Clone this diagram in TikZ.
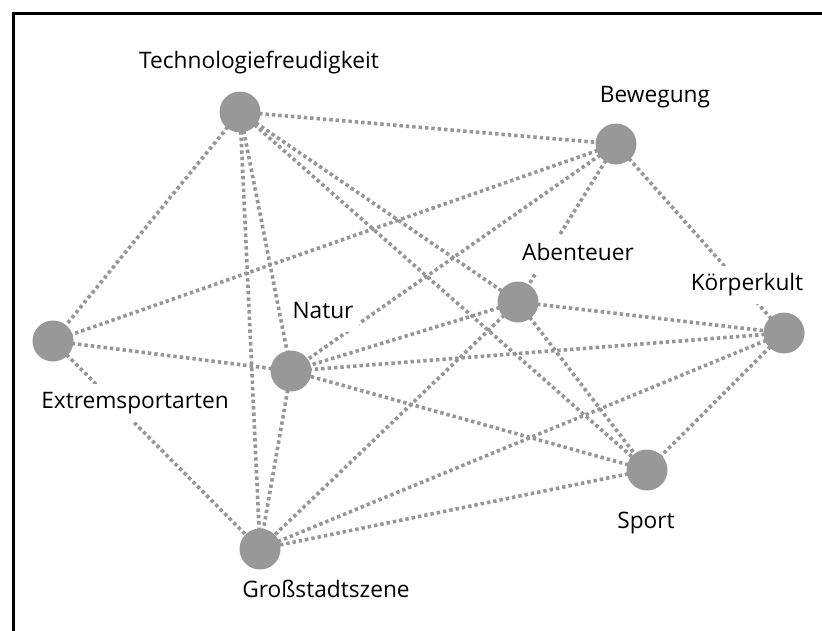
\documentclass[tikz,border=0pt]{standalone}
\usepackage{fontspec}
\setmainfont{Open Sans}
\definecolor{nodegray}{RGB}{152,152,152}
\definecolor{linegray}{RGB}{150,150,150}
\begin{document}
\begin{tikzpicture}[x=1pt,y=-1pt,
  concept/.style={circle, fill=nodegray, minimum size=41pt, inner sep=0pt},
  tag/.style={fill=white, inner sep=6pt, anchor=base, font=\fontsize{22.7}{26}\selectfont},
  link/.style={draw=linegray, line width=3.6pt, dash pattern=on 3.4pt off 3pt}]
\useasboundingbox (0,0) rectangle (822,630);
% frame
\draw[line width=3pt] (13.5,632) -- (13.5,13.5) -- (824,13.5);

% concept positions
\coordinate (T) at (240,112);
\coordinate (B) at (616,144);
\coordinate (A) at (518,302);
\coordinate (K) at (784,333);
\coordinate (E) at (53,341);
\coordinate (N) at (291,371);
\coordinate (S) at (647,470);
\coordinate (G) at (260,549);

% associations
\foreach \u/\v in {T/B,T/E,T/N,T/G,T/A,T/S,
                   B/E,B/N,B/A,B/K,
                   A/K,A/N,A/G,A/S,
                   K/N,K/G,K/S,
                   S/N,S/G,
                   N/G,N/E,E/G}
  \draw[link] (\u) -- (\v);

% labels
\node[tag] (lT) at (259,68) {\strut Technologiefreudigkeit};
\node[tag] (lB) at (655,102) {\strut Bewegung};
\node[tag] (lA) at (578,260) {\strut Abenteuer};
\node[tag] (lK) at (747,290) {\strut Körperkult};
\node[tag] (lN) at (323,318) {\strut Natur};
\node[tag] (lE) at (135,408) {\strut Extremsportarten};
\node[tag] (lS) at (646,528) {\strut Sport};
\node[tag] (lG) at (326,597) {\strut Großstadtszene};

% concepts
\foreach \n in {T,B,A,K,E,N,S,G}
  \node[concept] (c\n) at (\n) {};
\end{tikzpicture}
\end{document}
